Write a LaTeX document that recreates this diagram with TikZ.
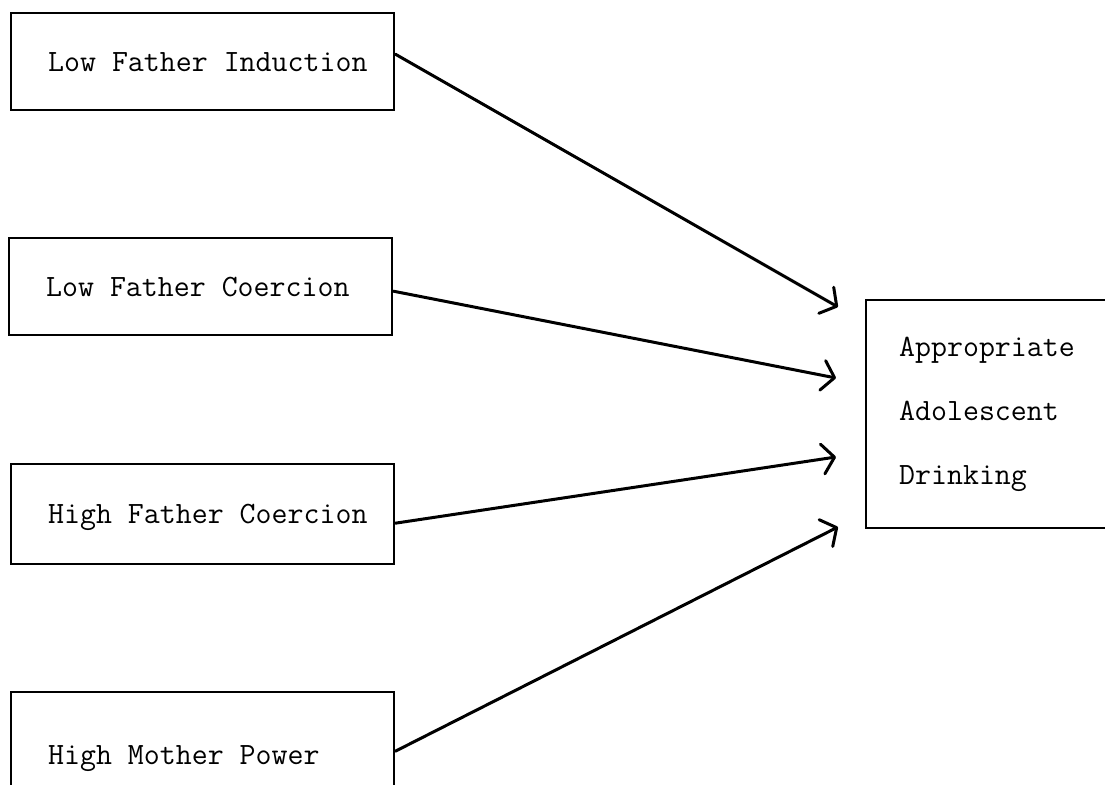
\documentclass[tikz,border=0pt]{standalone}
\usepackage{fontspec}
\usetikzlibrary{arrows.meta}
% one unit of the drawing grid
\newdimen\pxu \pxu=0.5pt
% left-aligned label with a fixed left margin inside a source box
\newcommand\padtext[1]{\makebox[383\pxu][l]{\hspace*{37\pxu}#1}}

\begin{document}
\begin{tikzpicture}[x=0.5pt,y=-0.5pt,
  every node/.style={font=\fontsize{15.5pt}{32pt}\selectfont\ttfamily},
  srcbox/.style={draw, line width=1.2pt, anchor=north west,
    minimum width=383\pxu, minimum height=97\pxu,
    inner xsep=0pt, text height=9.5pt, text depth=0pt},
  outbox/.style={draw, line width=1.2pt, anchor=north west,
    minimum height=228\pxu, text width=97pt, inner xsep=16.5pt, align=left},
  link/.style={line width=1.5pt, line cap=round,
    -{Straight Barb[length=6pt,width=15pt,round]}}
]
\useasboundingbox (0,0) rectangle (1105,785);
\fill[white] (0,0) rectangle (1105,785);
\clip (0,0) rectangle (1105,785);

% predictor boxes
\node[srcbox] (b1) at (10,12)  {\padtext{Low Father Induction}};
\node[srcbox] (b2) at (8,237)  {\padtext{Low Father Coercion}};
\node[srcbox, minimum height=100\pxu] (b3) at (10,463) {\padtext{High Father Coercion}};
\node[srcbox, minimum height=126\pxu] (b4) at (10,691) {\padtext{High Mother Power}};

% outcome box (runs past the right edge)
\node[outbox] (out) at (865,299) {Appropriate\\Adolescent\\Drinking};

% arrow tips, just short of the outcome box
\coordinate (t1) at (838,307);
\coordinate (t2) at (836,378);
\coordinate (t3) at (836,457);
\coordinate (t4) at (838,527);

\draw[link] ([yshift=7.5\pxu]b1.east) -- (t1);
\draw[link] ([yshift=-4.5\pxu]b2.east) -- (t2);
\draw[link] ([yshift=-9\pxu]b3.east) -- (t3);
\draw[link] ([yshift=4\pxu]b4.east) -- (t4);
\end{tikzpicture}
\end{document}
